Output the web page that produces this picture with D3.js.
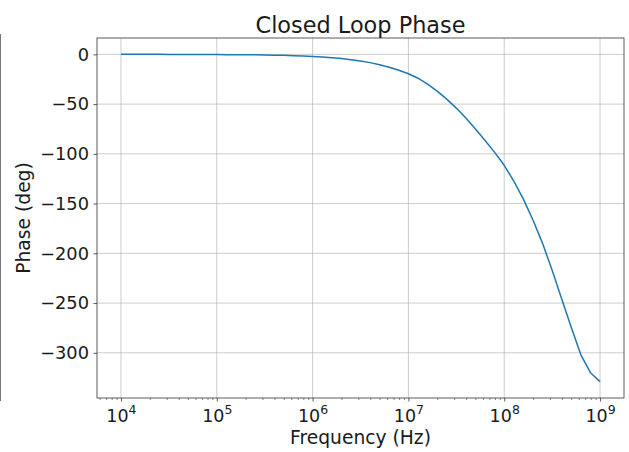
<!DOCTYPE html>
<html>
<head>
<meta charset="utf-8">
<script src="https://cdn.jsdelivr.net/npm/d3@7"></script>
<style>
  html, body { margin: 0; padding: 0; background: #fff; }
  svg { display: block; }
  text { font-family: "DejaVu Sans", sans-serif; fill: #1a1a1a; }
</style>
</head>
<body>
<svg id="chart" width="629" height="452"></svg>
<script>
// Closed-loop phase response, sampled every 0.1 decade from 10^4 to 10^9 Hz
const logFreq = [
  4.0, 4.1, 4.2, 4.3, 4.4, 4.5, 4.6, 4.7, 4.8, 4.9,
  5.0, 5.1, 5.2, 5.3, 5.4, 5.5, 5.6, 5.7, 5.8, 5.9,
  6.0, 6.1, 6.2, 6.3, 6.4, 6.5, 6.6, 6.7, 6.8, 6.9,
  7.0, 7.1, 7.2, 7.3, 7.4, 7.5, 7.6, 7.7, 7.8, 7.9,
  8.0, 8.1, 8.2, 8.3, 8.4, 8.5, 8.6, 8.7, 8.8, 8.9,
  9.0
];
const phaseDeg = [
  0.0, 0.0, 0.0, 0.0, 0.0, -0.1, -0.1, -0.1, -0.1, -0.2,
  -0.2, -0.3, -0.3, -0.4, -0.5, -0.6, -0.8, -1.0, -1.3, -1.7,
  -2.2, -2.7, -3.4, -4.2, -5.3, -6.6, -8.3, -10.4, -12.9, -15.9,
  -19.5, -24.0, -30.0, -37.0, -45.0, -54.0, -64.0, -75.0, -86.5, -98.5,
  -111.5, -127.5, -145.5, -166.5, -190.0, -217.0, -246.0, -274.5, -302.0, -320.0,
  -329.0
];
const xTickExps = [4, 5, 6, 7, 8, 9];
const yTicks = [0, -50, -100, -150, -200, -250, -300];

const titleText = "Closed Loop Phase";
const xLabelText = "Frequency (Hz)";
const yLabelText = "Phase (deg)";

const data = logFreq.map((lf, i) => ({ f: Math.pow(10, lf), p: phaseDeg[i] }));

const W = 629, H = 452;
const plot = { left: 97, right: 624, top: 38, bottom: 398 };

// 5% margins on each side, like matplotlib's autoscale
const lfExt = d3.extent(logFreq);
const lfPad = (lfExt[1] - lfExt[0]) * 0.05;
const pExt = d3.extent(phaseDeg);
const pPad = (pExt[1] - pExt[0]) * 0.05;

const x = d3.scaleLog()
  .domain([Math.pow(10, lfExt[0] - lfPad), Math.pow(10, lfExt[1] + lfPad)])
  .range([plot.left, plot.right]);
const y = d3.scaleLinear()
  .domain([pExt[0] - pPad, pExt[1] + pPad])
  .range([plot.bottom, plot.top]);

const svg = d3.select("#chart");

// thin rule at the far left edge of the figure
svg.append("line")
  .attr("x1", 0.5).attr("x2", 0.5)
  .attr("y1", 34).attr("y2", 401)
  .attr("stroke", "#777").attr("stroke-width", 1);

// grid
const grid = svg.append("g").attr("stroke", "#b0b0b0").attr("stroke-opacity", 0.7).attr("stroke-width", 0.9);
xTickExps.forEach(e => {
  const px = x(Math.pow(10, e));
  grid.append("line").attr("x1", px).attr("x2", px)
    .attr("y1", plot.top).attr("y2", plot.bottom);
});
yTicks.forEach(v => {
  const py = y(v);
  grid.append("line").attr("x1", plot.left).attr("x2", plot.right)
    .attr("y1", py).attr("y2", py);
});

// phase curve
const line = d3.line().x(d => x(d.f)).y(d => y(d.p));
svg.append("path")
  .datum(data)
  .attr("d", line)
  .attr("fill", "none")
  .attr("stroke", "#1f77b4")
  .attr("stroke-width", 1.5)
  .attr("stroke-linejoin", "round");

// x axis (log, decade labels as powers of ten)
const xMinor = [];
for (let e = 3; e <= 9; e++) {
  for (let m = 2; m <= 9; m++) {
    const v = m * Math.pow(10, e);
    if (v >= x.domain()[0] && v <= x.domain()[1]) xMinor.push(v);
  }
}
const xAxisMinor = d3.axisBottom(x).tickValues(xMinor).tickSize(2).tickFormat("");
const gxm = svg.append("g").attr("transform", `translate(0,${plot.bottom})`).call(xAxisMinor);
gxm.select(".domain").remove();
gxm.selectAll(".tick line").attr("stroke", "#333").attr("stroke-width", 0.6);

const xAxis = d3.axisBottom(x)
  .tickValues(xTickExps.map(e => Math.pow(10, e)))
  .tickSize(3.5).tickPadding(6).tickFormat("");
const gx = svg.append("g").attr("transform", `translate(0,${plot.bottom})`).call(xAxis);
gx.select(".domain").remove();
gx.selectAll(".tick line").attr("stroke", "#333").attr("stroke-width", 0.8);
gx.selectAll(".tick").each(function(d, i) {
  const t = d3.select(this).append("text")
    .attr("x", 0).attr("y", 23.7)
    .attr("text-anchor", "middle")
    .style("font-size", "17.5px");
  t.append("tspan").text("10");
  t.append("tspan").attr("dy", -7.5).style("font-size", "12.5px").text(xTickExps[i]);
});

// y axis
const yAxis = d3.axisLeft(y)
  .tickValues(yTicks)
  .tickSize(3.5).tickPadding(4.5)
  .tickFormat(v => v < 0 ? "\u2212" + Math.abs(v) : String(v));
const gy = svg.append("g").attr("transform", `translate(${plot.left},0)`).call(yAxis);
gy.select(".domain").remove();
gy.selectAll(".tick line").attr("stroke", "#333").attr("stroke-width", 0.8);
gy.selectAll(".tick text")
  .style("font-size", "17.8px")
  .style("font-family", "DejaVu Sans, sans-serif")
  .attr("fill", "#1a1a1a");

// frame
svg.append("rect")
  .attr("x", plot.left).attr("y", plot.top)
  .attr("width", plot.right - plot.left).attr("height", plot.bottom - plot.top)
  .attr("fill", "none").attr("stroke", "#333").attr("stroke-width", 0.8);

// title and axis labels
svg.append("text")
  .attr("x", (plot.left + plot.right) / 2).attr("y", 32.5)
  .attr("text-anchor", "middle")
  .style("font-size", "22.4px")
  .text(titleText);

svg.append("text")
  .attr("x", (plot.left + plot.right) / 2).attr("y", 443.5)
  .attr("text-anchor", "middle")
  .style("font-size", "18.7px")
  .text(xLabelText);

svg.append("text")
  .attr("transform", `translate(30,${(plot.top + plot.bottom) / 2}) rotate(-90)`)
  .attr("text-anchor", "middle")
  .style("font-size", "18.7px")
  .text(yLabelText);
</script>
</body>
</html>
